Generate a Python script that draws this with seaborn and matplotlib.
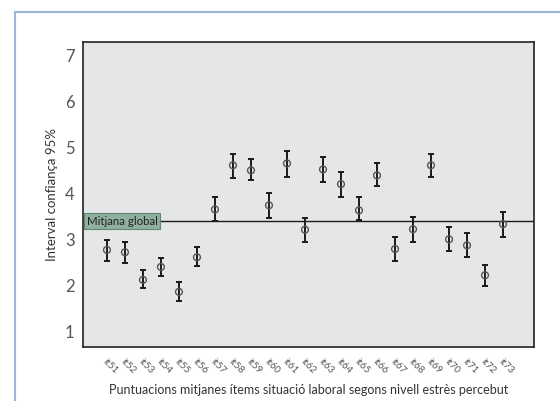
import matplotlib
matplotlib.use("Agg")
import matplotlib.pyplot as plt
from matplotlib.lines import Line2D
import seaborn as sns
import pandas as pd

items = ["it51", "it52", "it53", "it54", "it55", "it56", "it57", "it58", "it59", "it60",
         "it61", "it62", "it63", "it64", "it65", "it66", "it67", "it68", "it69", "it70",
         "it71", "it72", "it73"]
means = [2.78, 2.73, 2.13, 2.41, 1.87, 2.62, 3.66, 4.62, 4.51, 3.75,
         4.66, 3.22, 4.53, 4.21, 3.64, 4.40, 2.80, 3.23, 4.62, 3.01,
         2.88, 2.23, 3.34]
ci_low = [2.55, 2.49, 1.95, 2.21, 1.68, 2.44, 3.41, 4.34, 4.29, 3.48,
          4.37, 2.95, 4.26, 3.94, 3.44, 4.18, 2.53, 2.96, 4.37, 2.75,
          2.62, 1.99, 3.07]
ci_high = [3.00, 2.96, 2.34, 2.61, 2.08, 2.84, 3.92, 4.86, 4.76, 4.02,
           4.92, 3.48, 4.81, 4.48, 3.92, 4.66, 3.06, 3.49, 4.86, 3.27,
           3.14, 2.45, 3.61]
global_mean = 3.40
y_ticks = [1, 2, 3, 4, 5, 6, 7]

df = pd.DataFrame({"item": items, "mean": means, "lo": ci_low, "hi": ci_high})
df["pos"] = range(len(df))

sns.set_style("white")
plt.rcParams["font.family"] = ["Lato", "DejaVu Sans"]

fig = plt.figure(figsize=(5.6, 4.01), dpi=100)
ax = fig.add_axes([83 / 560, 1 - 347 / 401, (534 - 83) / 560, (347 - 42) / 401])
ax.set_facecolor("#e5e6e8")

# confidence intervals
ax.errorbar(df["pos"], df["mean"],
            yerr=[df["mean"] - df["lo"], df["hi"] - df["mean"]],
            fmt="none", ecolor="#1a1a1a", elinewidth=1.4, capsize=2.5, capthick=1.4, zorder=2)

# mean markers
sns.scatterplot(data=df, x="pos", y="mean", ax=ax, marker="o", s=24,
                facecolor="none", edgecolor="#555555", linewidth=1.0, zorder=3, legend=False)

# global mean reference line
ax.axhline(global_mean, color="#1a1a1a", linewidth=1.0, zorder=1)
ax.text(-1.12, global_mean, "Mitjana global", fontsize=8.3, color="#222222",
        va="center", ha="left", zorder=4,
        bbox=dict(boxstyle="square,pad=0.22", facecolor="#8fb0a0", edgecolor="#5f8a74", linewidth=0.8))

ax.set_xlim(-1.33, 23.72)
ax.set_ylim(0.67, 7.3)
ax.set_xticks(df["pos"])
ax.set_xticklabels(df["item"], rotation=-45, ha="left", va="top", rotation_mode="anchor",
                   fontsize=7, color="#555555")
ax.set_yticks(y_ticks)
ax.set_yticklabels([str(v) for v in y_ticks], fontsize=12, color="#555555")
ax.tick_params(axis="both", direction="out", length=4, width=1.2, color="#222222", pad=2)
ax.tick_params(axis="x", pad=3)
for sp in ax.spines.values():
    sp.set_color("#222222")
    sp.set_linewidth(1.2)

ax.set_xlabel("Puntuacions mitjanes ítems situació laboral segons nivell estrès percebut",
              fontsize=9, color="#333333", labelpad=6)
ax.set_ylabel("Interval confiança 95%", fontsize=9.5, color="#333333", labelpad=5)

# outer page frame
frame_col = "#9bb6d6"
fig.add_artist(Line2D([15 / 560, 15 / 560], [0, 1 - 12 / 401], transform=fig.transFigure,
                      color=frame_col, linewidth=1.5))
fig.add_artist(Line2D([15 / 560, 1], [1 - 12 / 401, 1 - 12 / 401], transform=fig.transFigure,
                      color=frame_col, linewidth=1.5))

fig.savefig("out.png", dpi=100)
